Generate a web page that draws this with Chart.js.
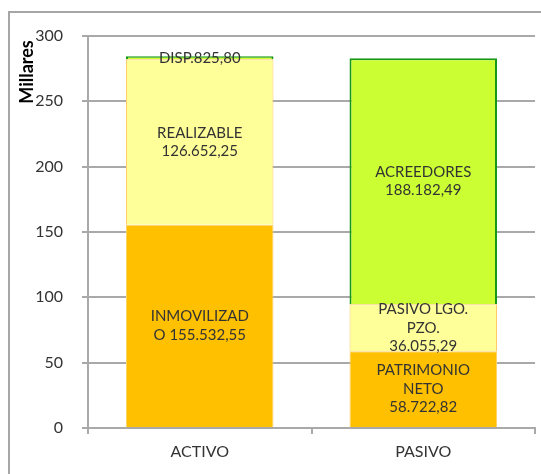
<!DOCTYPE html>
<html>
<head>
<meta charset="utf-8">
<script src="https://cdn.jsdelivr.net/npm/chart.js@4/dist/chart.umd.min.js"></script>
<style>
    body { margin: 0; background: #fff; }
    #wrap { position: relative; width: 541px; height: 474px; overflow: hidden; }
    #frame { position: absolute; left: 8px; top: 11px; width: 600px; height: 520px; border-left: 2px solid #a6a6a6; border-top: 2px solid #a6a6a6; }
    #chart { position: absolute; left: 0; top: 0; }
</style>
</head>
<body>
<div id="wrap">
    <div id="frame"></div>
    <canvas id="chart" width="541" height="474"></canvas>
</div>
<script>
// values in Millares
const categories = ['ACTIVO', 'PASIVO'];
const bottomValues = [155.53255, 58.72282];   // INMOVILIZADO / PATRIMONIO NETO
const middleValues = [126.65225, 36.05529];   // REALIZABLE / PASIVO LGO. PZO.
const topValues = [0.8258, 188.18249];        // DISP. / ACREEDORES
const yTicks = [0, 50, 100, 150, 200, 250, 300];

// segment captions, {v} is replaced by the formatted value
const bottomCaptions = [['INMOVILIZAD', 'O {v}'], ['PATRIMONIO', 'NETO', '{v}']];
const middleCaptions = [['REALIZABLE', '{v}'], ['PASIVO LGO.', 'PZO.', '{v}']];
const topCaptions = [['DISP.{v}'], ['ACREEDORES', '{v}']];

function formatValue(v) {
    const parts = (v * 1000).toFixed(2).split('.');
    const intPart = parts[0].replace(/\B(?=(\d{3})+(?!\d))/g, '.');
    return intPart + ',' + parts[1];
}

const captionPlugin = {
    id: 'captions',
    afterDatasetsDraw(chart) {
        const ctx = chart.ctx;
        ctx.save();
        ctx.font = '15px Lato';
        ctx.fillStyle = '#333';
        ctx.textAlign = 'center';
        ctx.textBaseline = 'middle';
        chart.data.datasets.forEach((ds, di) => {
            const meta = chart.getDatasetMeta(di);
            meta.data.forEach((bar, i) => {
                const lines = ds.captions[i].map(l => l.replace('{v}', formatValue(ds.data[i])));
                const cy = (bar.y + bar.base) / 2;
                const lh = 18.5;
                lines.forEach((line, k) => {
                    ctx.fillText(line, bar.x, cy + (k - (lines.length - 1) / 2) * lh);
                });
            });
        });
        ctx.restore();
    }
};

const unitPlugin = {
    id: 'unitTitle',
    afterDraw(chart) {
        const ctx = chart.ctx;
        ctx.save();
        ctx.translate(27, 72);
        ctx.rotate(-Math.PI / 2);
        ctx.font = 'bold 18px Lato';
        ctx.fillStyle = '#000';
        ctx.textAlign = 'center';
        ctx.textBaseline = 'middle';
        ctx.fillText('Millares', 0, 0);
        ctx.restore();
    }
};

const gridColor = '#a9a9a9';

new Chart(document.getElementById('chart').getContext('2d'), {
    type: 'bar',
    data: {
        labels: categories,
        datasets: [
            {
                data: bottomValues,
                captions: bottomCaptions,
                backgroundColor: '#ffc000',
                borderColor: '#ffd36b',
                borderWidth: 1
            },
            {
                data: middleValues,
                captions: middleCaptions,
                backgroundColor: '#ffff99',
                borderColor: '#ffcc66',
                borderWidth: 1
            },
            {
                data: topValues,
                captions: topCaptions,
                backgroundColor: '#ccff33',
                borderColor: '#189818',
                borderWidth: 2,
                minBarLength: 3
            }
        ]
    },
    options: {
        responsive: false,
        animation: false,
        layout: { padding: { left: 0, top: 36, right: 6, bottom: 0 } },
        datasets: {
            bar: { barPercentage: 0.66, categoryPercentage: 1 }
        },
        plugins: {
            legend: { display: false },
            tooltip: { enabled: false }
        },
        scales: {
            x: {
                stacked: true,
                afterFit: s => { s.height = 46; },
                grid: { drawOnChartArea: false, drawTicks: true, tickLength: 6, color: gridColor, lineWidth: 2 },
                border: { color: gridColor, width: 2 },
                ticks: { font: { family: 'Lato', size: 16 }, color: '#333', padding: 8 }
            },
            y: {
                stacked: true,
                min: 0,
                max: 300,
                afterFit: s => { s.width = 88; },
                afterBuildTicks: s => { s.ticks = yTicks.map(v => ({ value: v })); },
                grid: { color: gridColor, lineWidth: 2, tickLength: 6 },
                border: { color: gridColor, width: 2 },
                ticks: { font: { family: 'Lato', size: 16 }, color: '#333', padding: 19 }
            }
        }
    },
    plugins: [captionPlugin, unitPlugin]
});
</script>
</body>
</html>
